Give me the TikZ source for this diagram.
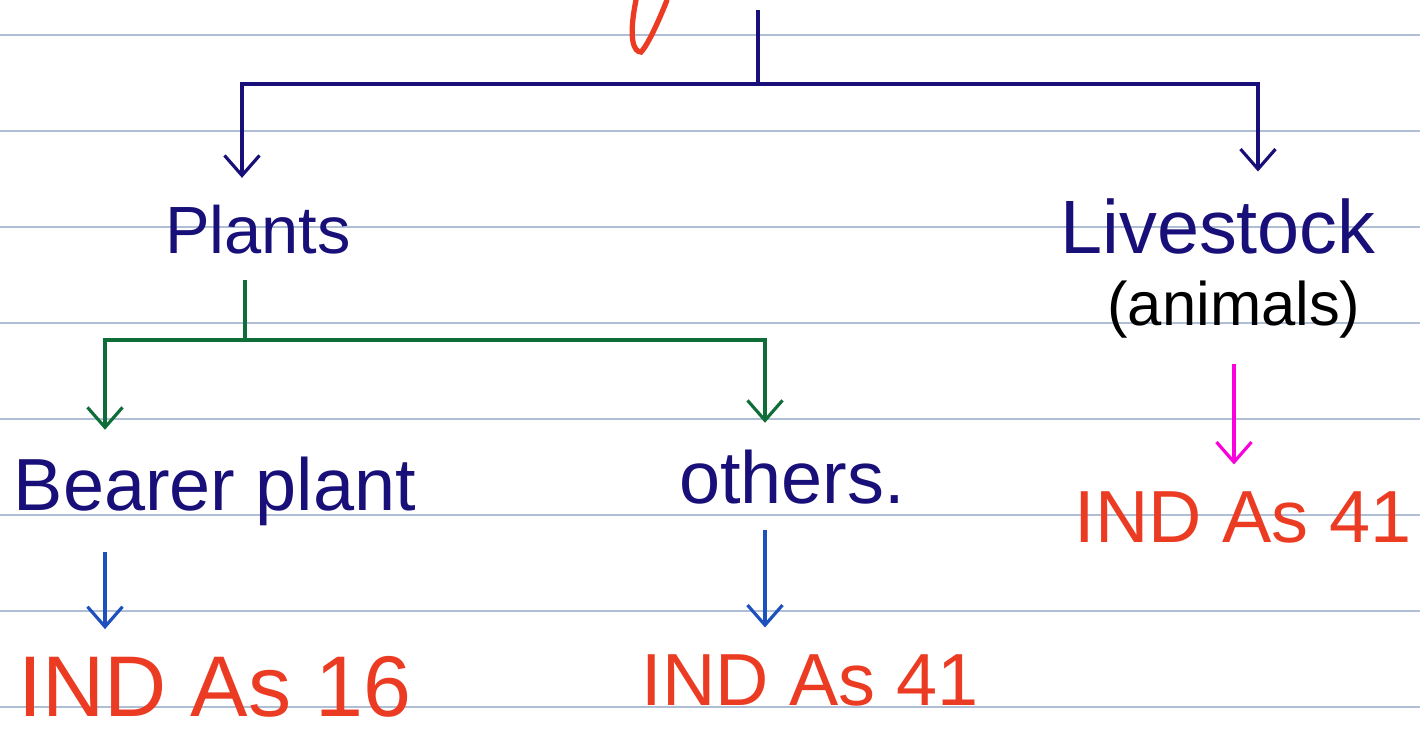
\documentclass[tikz,border=0pt]{standalone}
\usepackage{fontspec}
\setmainfont{Liberation Sans}
\usetikzlibrary{arrows.meta}
\definecolor{inknavy}{RGB}{25,15,120}
\definecolor{inkgreen}{RGB}{15,110,55}
\definecolor{inkblue}{RGB}{30,80,190}
\definecolor{inkred}{RGB}{235,60,35}
\definecolor{inkpink}{RGB}{250,0,220}
\definecolor{ruled}{RGB}{175,190,212}
\tikzset{
  barb/.tip={Straight Barb[length=2mm,width=3.5mm]},
  rule/.style={ruled,line width=0.5pt},
  note/.style={inner xsep=0pt,inner ysep=0.26cm,anchor=base},
  pen/.style={line width=0.9pt},
}
\begin{document}
\begin{tikzpicture}[x=0.01cm,y=-0.01cm]
    \useasboundingbox (0,0) rectangle (1420,736);

    % ruled lines
    \foreach \y in {35,131,...,707} {
        \draw[rule] (0,\y) -- (1420,\y);
    }

    % red stroke cut off at the top
    \draw[inkred,line width=1.5pt,line cap=round] (636,0) .. controls (628,40) and (634,52) .. (641,52)
        .. controls (648,45) and (660,18) .. (667,0);

    % first level
    \node[note,inknavy,font=\fontsize{19}{23}\selectfont] (plants) at (258,253) {Plants};
    \node[note,inknavy,font=\fontsize{21.5}{26}\selectfont] (livestock) at (1218,253) {Livestock};
    \node[note,black,font=\fontsize{17.5}{21}\selectfont] (animals) at (1234,325) {(animals)};

    % second level
    \node[note,inknavy,font=\fontsize{21}{25}\selectfont] (bearer) at (215,510) {Bearer plant};
    \node[note,inknavy,font=\fontsize{21}{25}\selectfont] (others) at (792,503) {others.};

    % standards
    \node[note,inkred,font=\fontsize{24.5}{29}\selectfont] (ind16) at (215,716) {IND As 16};
    \node[note,inkred,font=\fontsize{21}{25}\selectfont] (ind41) at (810,705) {IND As 41};
    \node[note,inkred,font=\fontsize{21}{25}\selectfont] (right41) at (1243,542) {IND As 41};

    % top fork
    \coordinate (top) at (758,10);
    \coordinate (fork) at (758,84);
    \coordinate (lfork) at (242,84);
    \coordinate (rfork) at (1258,84);
    \draw[pen,inknavy] (top) -- (fork);
    \draw[pen,inknavy,barb-barb] (lfork |- plants.north) -- (lfork) -- (rfork) -- (rfork |- livestock.north);

    % plants fork (green)
    \coordinate (gfork) at (245,340);
    \coordinate (gleft) at (105,340);
    \coordinate (gright) at (765,340);
    \draw[pen,inkgreen] (gfork |- plants.south) -- (gfork);
    \draw[pen,inkgreen,barb-barb] (gleft |- bearer.north) -- (gleft) -- (gright) -- (gright |- others.north);

    % to the standards
    \draw[pen,inkblue,-barb] (bearer.south -| gleft) -- (ind16.north -| gleft);
    \draw[pen,inkblue,-barb] (others.south -| gright) -- (ind41.north -| gright);
    \draw[pen,inkpink,-barb] (animals.south) -- (animals.south |- right41.north);
\end{tikzpicture}
\end{document}
